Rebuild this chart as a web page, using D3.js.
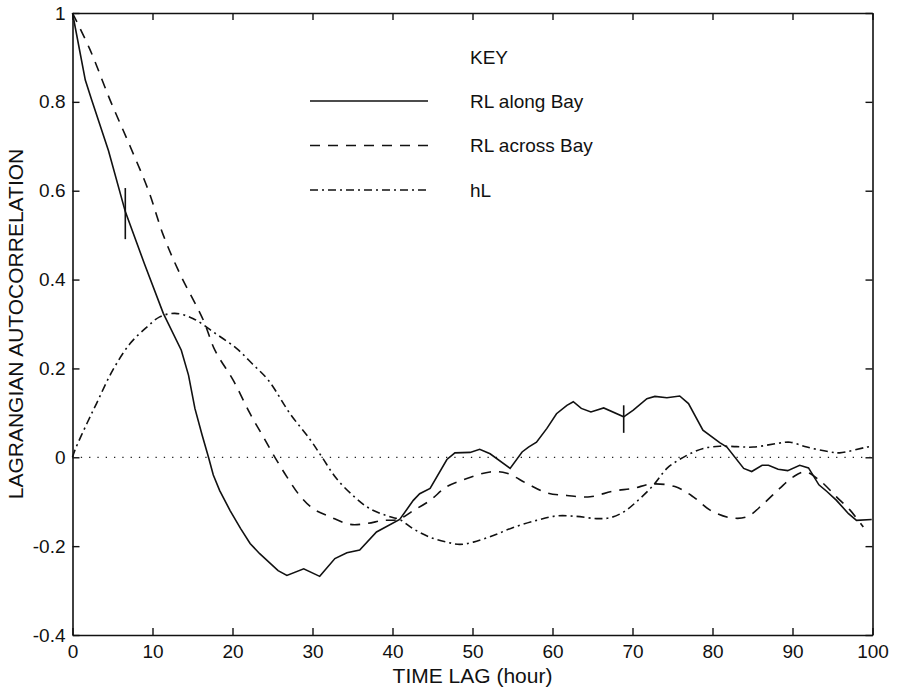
<!DOCTYPE html>
<html>
<head>
<meta charset="utf-8">
<script src="https://cdn.jsdelivr.net/npm/d3@7"></script>
<style>
  body { margin: 0; background: #fff; }
  text { font-family: "Liberation Sans", Arial, Helvetica, sans-serif; fill: #111; }
</style>
</head>
<body>
<div id="chart"></div>
<script>
// RL along Bay (solid)
const alongX = [0, 1.6, 2.4, 4.5, 6.6, 9, 11.35, 13.6, 14.5, 15.3, 16.2, 17, 17.6, 18.4, 19.7, 21, 22.2, 23.4, 25.7, 26.8, 28.9, 30.9, 32.8, 34.3, 35.9, 38, 40.9, 42.6, 43.4, 44.7, 46.8, 47.8, 49.7, 50.9, 52.2, 54.7, 56.2, 57, 58, 59.3, 60.5, 61.8, 62.6, 63.6, 64.8, 66.4, 68.9, 70.1, 71.8, 72.8, 74.3, 75.9, 77, 78.8, 80.9, 81.8, 83.9, 84.9, 86.2, 87, 88.2, 89.4, 90.9, 92, 93.3, 94.3, 95.5, 97, 98, 99.9];
const alongY = [1, 0.849, 0.804, 0.69, 0.553, 0.435, 0.324, 0.241, 0.185, 0.11, 0.05, 0, -0.04, -0.075, -0.12, -0.16, -0.194, -0.217, -0.255, -0.266, -0.251, -0.268, -0.228, -0.215, -0.209, -0.168, -0.14, -0.097, -0.082, -0.07, -0.005, 0.01, 0.011, 0.018, 0.008, -0.025, 0.012, 0.023, 0.034, 0.065, 0.098, 0.117, 0.125, 0.11, 0.102, 0.111, 0.091, 0.106, 0.132, 0.137, 0.134, 0.138, 0.121, 0.061, 0.033, 0.023, -0.025, -0.032, -0.018, -0.018, -0.027, -0.03, -0.018, -0.024, -0.062, -0.077, -0.097, -0.127, -0.142, -0.14];

// RL across Bay (dashed)
const acrossX = [0, 2.2, 4.7, 7.2, 9.5, 11.35, 13.4, 16.35, 17.8, 20.1, 22.2, 23.85, 25.3, 26.8, 28.4, 30.1, 32.2, 34.7, 36.8, 38.85, 40.7, 42.6, 44.7, 46.8, 49.3, 52.2, 54.3, 56.8, 59.3, 61.8, 64.7, 67.6, 70.1, 72.4, 75.3, 77.6, 79.7, 82.2, 84.3, 86.4, 88.4, 90.1, 91.6, 93.4, 95.5, 97.2, 98.85];
const acrossY = [1, 0.917, 0.804, 0.7, 0.6, 0.5, 0.414, 0.309, 0.241, 0.173, 0.098, 0.046, 0, -0.044, -0.086, -0.116, -0.134, -0.151, -0.149, -0.142, -0.14, -0.12, -0.097, -0.066, -0.048, -0.033, -0.036, -0.059, -0.08, -0.086, -0.089, -0.076, -0.07, -0.06, -0.066, -0.089, -0.119, -0.136, -0.134, -0.104, -0.07, -0.044, -0.033, -0.052, -0.089, -0.119, -0.157];

// hL (dash-dot)
const hlX = [0, 0.3, 1.8, 3, 5, 7.2, 9.3, 10.9, 12.8, 15.1, 17.6, 20.5, 22.5, 24.5, 27.2, 29.7, 31.2, 33, 35.3, 37.2, 39.7, 40.9, 42.6, 44.7, 46.8, 48.4, 50.1, 52.6, 55.1, 58, 60.5, 63, 65.5, 67.2, 68.9, 70.5, 72.6, 74.3, 75.6, 77.2, 78.85, 80.9, 83, 85.1, 88.4, 89.7, 91.8, 94.7, 95.9, 99.3, 100];
const hlY = [0, 0.016, 0.076, 0.121, 0.195, 0.256, 0.293, 0.316, 0.324, 0.312, 0.282, 0.245, 0.21, 0.173, 0.098, 0.04, 0, -0.048, -0.09, -0.116, -0.134, -0.14, -0.161, -0.18, -0.191, -0.196, -0.191, -0.176, -0.158, -0.142, -0.132, -0.133, -0.138, -0.136, -0.123, -0.1, -0.063, -0.025, -0.008, 0.008, 0.02, 0.025, 0.024, 0.023, 0.032, 0.034, 0.023, 0.012, 0.01, 0.023, 0.025];

// error bars on the along-Bay curve
const barX = [6.6, 68.9];
const barLo = [0.491, 0.055];
const barHi = [0.606, 0.117];

const xTicks = [0, 10, 20, 30, 40, 50, 60, 70, 80, 90, 100];
const yTicks = [-0.4, -0.2, 0, 0.2, 0.4, 0.6, 0.8, 1];

const legendLabels = ["RL along Bay", "RL across Bay", "hL"];
const legendDash = [null, "10,8", "8,4,2,4"];

const width = 897, height = 690;
const plotLeft = 72.5, plotRight = 872.5, plotTop = 13, plotBottom = 635;

const svg = d3.select("#chart").append("svg")
  .attr("width", width)
  .attr("height", height);

svg.append("rect").attr("width", width).attr("height", height).attr("fill", "#fff");

const x = d3.scaleLinear().domain([0, 100]).range([plotLeft, plotRight]);
const y = d3.scaleLinear().domain([-0.4, 1]).range([plotBottom, plotTop]);

const fmt = (d) => (d === 0 || d === 1 ? String(d) : d.toFixed(1));

// axes with inward ticks on all four sides
function styleAxis(g) {
  g.selectAll("path").attr("stroke", "#111").attr("stroke-width", 1.6).attr("fill", "none");
  g.selectAll("line").attr("stroke", "#111").attr("stroke-width", 1.4);
  g.selectAll("text").attr("font-size", 19).attr("fill", "#111");
}

svg.append("g")
  .attr("transform", `translate(0,${plotBottom})`)
  .call(d3.axisBottom(x).tickValues(xTicks).tickSize(-7).tickSizeOuter(0).tickPadding(10))
  .call(styleAxis);

svg.append("g")
  .attr("transform", `translate(${plotLeft},0)`)
  .call(d3.axisLeft(y).tickValues(yTicks).tickFormat(fmt).tickSize(-7).tickSizeOuter(0).tickPadding(7))
  .call(styleAxis);

svg.append("g")
  .attr("transform", `translate(0,${plotTop})`)
  .call(d3.axisTop(x).tickValues(xTicks).tickFormat("").tickSize(-7).tickSizeOuter(0))
  .call(styleAxis);

svg.append("g")
  .attr("transform", `translate(${plotRight},0)`)
  .call(d3.axisRight(y).tickValues(yTicks).tickFormat("").tickSize(-7).tickSizeOuter(0))
  .call(styleAxis);

// dotted zero line
svg.append("line")
  .attr("x1", x(0)).attr("x2", x(100))
  .attr("y1", y(0)).attr("y2", y(0))
  .attr("stroke", "#222")
  .attr("stroke-width", 1.3)
  .attr("stroke-dasharray", "1.3,7");

const series = [
  { xs: alongX, ys: alongY, dash: legendDash[0], curve: d3.curveLinear },
  { xs: acrossX, ys: acrossY, dash: legendDash[1], curve: d3.curveCatmullRom },
  { xs: hlX, ys: hlY, dash: legendDash[2], curve: d3.curveCatmullRom },
];

series.forEach((s) => {
  const pts = s.xs.map((v, i) => [v, s.ys[i]]);
  svg.append("path")
    .datum(pts)
    .attr("fill", "none")
    .attr("stroke", "#111")
    .attr("stroke-width", 1.6)
    .attr("stroke-dasharray", s.dash)
    .attr("d", d3.line().x((d) => x(d[0])).y((d) => y(d[1])).curve(s.curve));
});

// error bars
svg.append("g").selectAll("line")
  .data(barX)
  .join("line")
  .attr("x1", (d) => x(d)).attr("x2", (d) => x(d))
  .attr("y1", (d, i) => y(barLo[i])).attr("y2", (d, i) => y(barHi[i]))
  .attr("stroke", "#111")
  .attr("stroke-width", 1.6);

// legend
const legend = svg.append("g");
legend.append("text")
  .attr("x", 470).attr("y", 57)
  .attr("dy", "0.35em")
  .attr("font-size", 19)
  .text("KEY");

legendLabels.forEach((label, i) => {
  const ly = 101 + i * 44.5;
  legend.append("line")
    .attr("x1", 310).attr("x2", 428)
    .attr("y1", ly).attr("y2", ly)
    .attr("stroke", "#111")
    .attr("stroke-width", 1.6)
    .attr("stroke-dasharray", legendDash[i]);
  legend.append("text")
    .attr("x", 470).attr("y", ly)
    .attr("dy", "0.35em")
    .attr("font-size", 19)
    .text(label);
});

// axis titles
svg.append("text")
  .attr("x", (plotLeft + plotRight) / 2)
  .attr("y", 683)
  .attr("text-anchor", "middle")
  .attr("font-size", 21)
  .text("TIME LAG (hour)");

svg.append("text")
  .attr("transform", `translate(23,${(plotTop + plotBottom) / 2}) rotate(-90)`)
  .attr("text-anchor", "middle")
  .attr("font-size", 21)
  .text("LAGRANGIAN AUTOCORRELATION");
</script>
</body>
</html>
